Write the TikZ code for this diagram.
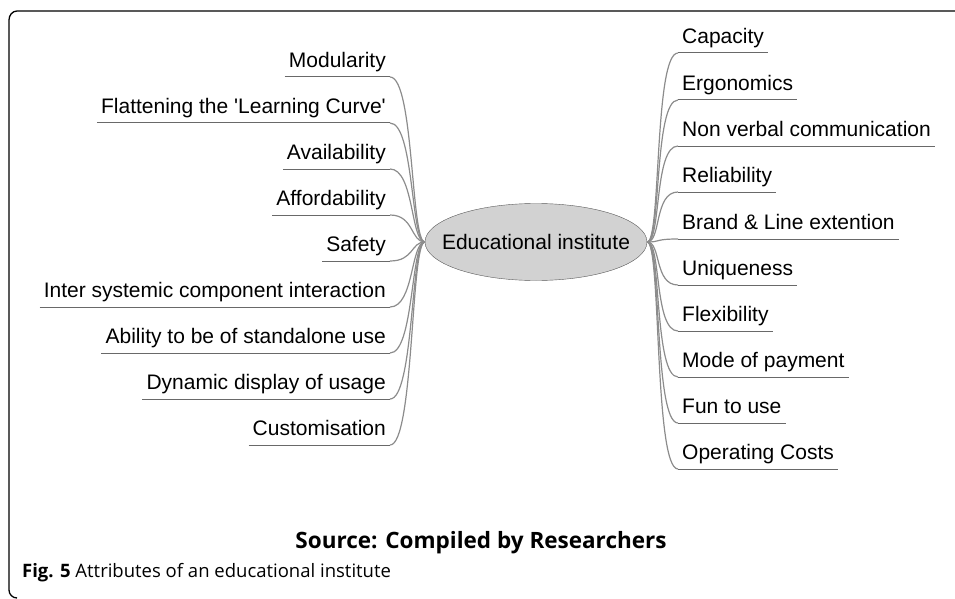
\documentclass[tikz,border=0pt]{standalone}
\usepackage{fontspec}
\setmainfont{Liberation Sans}
\newfontfamily\capfont{Open Sans}
\usetikzlibrary{shapes.geometric}

\definecolor{branchgray}{RGB}{140,140,140}
\definecolor{linegray}{RGB}{105,105,105}

\tikzset{
    leaf/.style={font=\fontsize{21}{24}\selectfont, inner xsep=4pt, inner ysep=4pt,
        text height=15pt, text depth=5pt},
    lleaf/.style={leaf, anchor=south east},
    rleaf/.style={leaf, anchor=south west},
    branch/.style={draw=branchgray, line width=1.2pt},
    uline/.style={draw=linegray, line width=1pt}
}

\begin{document}
\begin{tikzpicture}[x=1pt,y=-1pt]
    \useasboundingbox (0,0) rectangle (955,599);

    % Draw frame
    \draw[line width=1.3pt] (17,598) to[out=180,in=-90] (9,590) -- (9,20)
        to[out=90,in=180] (17,11) -- (955,11);

    % centre
    \node[ellipse, draw=gray!70!black, fill=gray!35, minimum width=222pt,
        minimum height=77pt, inner xsep=-20pt, inner ysep=0pt,
        font=\fontsize{21}{24}\selectfont]
        (inst) at (536,242) {Educational institute\hspace{14pt}};

    % left leaves
    \node[lleaf] (modul) at (390,77) {Modularity};
    \node[lleaf] (flat) at (390,123) {Flattening the \textquotesingle Learning Curve\textquotesingle};
    \node[lleaf] (avail) at (390,169) {Availability};
    \node[lleaf] (afford) at (390,215) {Affordability};
    \node[lleaf] (safe) at (390,261) {Safety};
    \node[lleaf] (inter) at (390,307) {Inter systemic component interaction};
    \node[lleaf] (alone) at (390,353) {Ability to be of standalone use};
    \node[lleaf] (dyn) at (390,399) {Dynamic display of usage};
    \node[lleaf] (custom) at (390,445) {Customisation};

    % right leaves
    \node[rleaf] (capac) at (678,53) {Capacity};
    \node[rleaf] (ergo) at (678,100) {Ergonomics};
    \node[rleaf] (nonverb) at (678,146) {Non verbal communication};
    \node[rleaf] (reli) at (678,192) {Reliability};
    \node[rleaf] (brand) at (678,239) {Brand \& Line extention};
    \node[rleaf] (uniq) at (678,285) {Uniqueness};
    \node[rleaf] (flex) at (678,331) {Flexibility};
    \node[rleaf] (mode) at (678,377) {Mode of payment};
    \node[rleaf] (fun) at (678,423) {Fun to use};
    \node[rleaf] (opcost) at (678,469) {Operating Costs};

    % left branches
    \draw[branch] (inst.west) .. controls +(-14,0) and +(24,0) .. (modul.south east);
    \draw[branch] (inst.west) .. controls +(-14,0) and +(24,0) .. (flat.south east);
    \draw[branch] (inst.west) .. controls +(-14,0) and +(24,0) .. (avail.south east);
    \draw[branch] (inst.west) .. controls +(-14,0) and +(24,0) .. (afford.south east);
    \draw[branch] (inst.west) .. controls +(-14,0) and +(24,0) .. (safe.south east);
    \draw[branch] (inst.west) .. controls +(-14,0) and +(24,0) .. (inter.south east);
    \draw[branch] (inst.west) .. controls +(-14,0) and +(24,0) .. (alone.south east);
    \draw[branch] (inst.west) .. controls +(-14,0) and +(24,0) .. (dyn.south east);
    \draw[branch] (inst.west) .. controls +(-14,0) and +(24,0) .. (custom.south east);

    % right branches
    \draw[branch] (inst.east) .. controls +(14,0) and +(-24,0) .. (capac.south west);
    \draw[branch] (inst.east) .. controls +(14,0) and +(-24,0) .. (ergo.south west);
    \draw[branch] (inst.east) .. controls +(14,0) and +(-24,0) .. (nonverb.south west);
    \draw[branch] (inst.east) .. controls +(14,0) and +(-24,0) .. (reli.south west);
    \draw[branch] (inst.east) .. controls +(14,0) and +(-24,0) .. (brand.south west);
    \draw[branch] (inst.east) .. controls +(14,0) and +(-24,0) .. (uniq.south west);
    \draw[branch] (inst.east) .. controls +(14,0) and +(-24,0) .. (flex.south west);
    \draw[branch] (inst.east) .. controls +(14,0) and +(-24,0) .. (mode.south west);
    \draw[branch] (inst.east) .. controls +(14,0) and +(-24,0) .. (fun.south west);
    \draw[branch] (inst.east) .. controls +(14,0) and +(-24,0) .. (opcost.south west);

    % underlines
    \draw[uline] (modul.south west) -- (modul.south east);
    \draw[uline] (flat.south west) -- (flat.south east);
    \draw[uline] (avail.south west) -- (avail.south east);
    \draw[uline] (afford.south west) -- (afford.south east);
    \draw[uline] (safe.south west) -- (safe.south east);
    \draw[uline] (inter.south west) -- (inter.south east);
    \draw[uline] (alone.south west) -- (alone.south east);
    \draw[uline] (dyn.south west) -- (dyn.south east);
    \draw[uline] (custom.south west) -- (custom.south east);
    \draw[uline] (capac.south west) -- (capac.south east);
    \draw[uline] (ergo.south west) -- (ergo.south east);
    \draw[uline] (nonverb.south west) -- (nonverb.south east);
    \draw[uline] (reli.south west) -- (reli.south east);
    \draw[uline] (brand.south west) -- (brand.south east);
    \draw[uline] (uniq.south west) -- (uniq.south east);
    \draw[uline] (flex.south west) -- (flex.south east);
    \draw[uline] (mode.south west) -- (mode.south east);
    \draw[uline] (fun.south west) -- (fun.south east);
    \draw[uline] (opcost.south west) -- (opcost.south east);

    % source and caption
    \node[anchor=base, inner sep=0pt, font=\capfont\bfseries\fontsize{22.5}{26}\selectfont]
        (src) at (481,548) {Source: Compiled by Researchers};
    \node[anchor=base west, inner sep=0pt, font=\capfont\fontsize{18.5}{22}\selectfont]
        (fig) at (22,577) {\textbf{Fig. 5} Attributes of an educational institute};
\end{tikzpicture}
\end{document}
